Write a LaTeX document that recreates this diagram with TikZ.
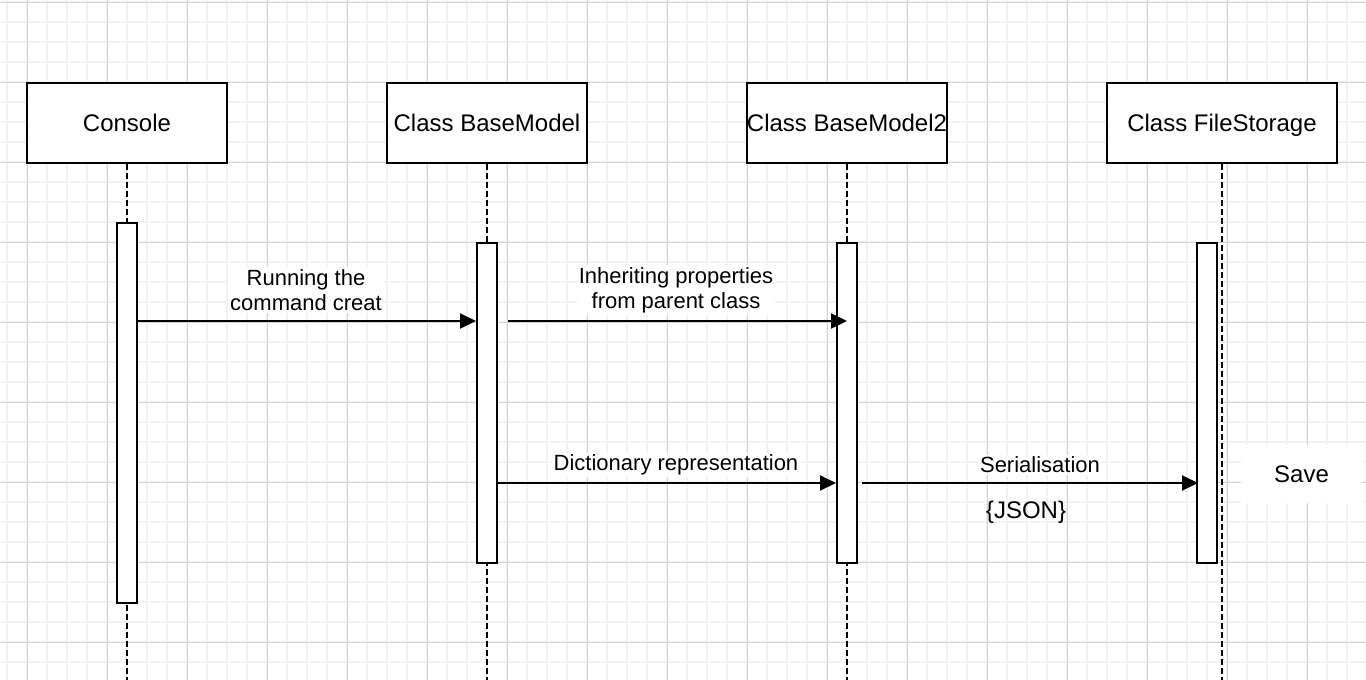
\documentclass[tikz,border=0pt]{standalone}
\usepackage{fontspec}
\setmainfont{Liberation Sans}
\usetikzlibrary{arrows.meta}
\definecolor{minorgrid}{HTML}{F2F2F2}
\definecolor{majorgrid}{HTML}{D4D4D4}
\tikzset{
  minorline/.style={draw=minorgrid, line width=1.5pt},
  majorline/.style={draw=majorgrid, line width=1pt},
  objbox/.style={draw=black, fill=white, line width=2pt, rectangle, minimum height=80pt, minimum width=200pt, inner sep=0pt, text height=17.5pt, text depth=0pt, font=\fontsize{24}{28}\selectfont},
  actbox/.style={draw=black, fill=white, line width=2pt, rectangle, minimum width=20pt, inner sep=0pt},
  lifeline/.style={draw=black, line width=2pt, dash pattern=on 6pt off 3pt},
  msg/.style={draw=black, line width=2pt, -{Triangle[length=16pt,width=15pt]}},
  msglabel/.style={fill=white, inner sep=2pt, align=center, font=\fontsize{22}{25}\selectfont},
  plaintext/.style={inner sep=0pt, font=\fontsize{24}{28}\selectfont}
}
\begin{document}
\begin{tikzpicture}[x=1pt,y=-1pt]
\useasboundingbox (0,0) rectangle (1366,680);
\fill[white] (0,0) rectangle (1366,680);
% grid
\foreach \x in {7,27,...,1366} \draw[minorline] (\x,0) -- (\x,680);
\foreach \y in {2,22,...,680} \draw[minorline] (0,\y) -- (1366,\y);
\foreach \x in {27,107,...,1366} \draw[majorline] (\x,0) -- (\x,680);
\foreach \y in {2,82,...,680} \draw[majorline] (0,\y) -- (1366,\y);

% lifeline heads
\node[objbox] (console) at (127,122.5) {Console};
\node[objbox] (bm) at (487,122.5) {Class BaseModel};
\node[objbox] (bm2) at (847,122.5) {Class BaseModel2};
\node[objbox, minimum width=230pt] (fs) at (1222,122.5) {Class FileStorage};

% lifeline ends
\coordinate (cend) at (127,681);
\coordinate (bmend) at (487,681);
\coordinate (bm2end) at (847,681);
\coordinate (fsend) at (1222,681);
\draw[lifeline] (console.south) -- (cend);
\draw[lifeline] (bm.south) -- (bmend);
\draw[lifeline] (bm2.south) -- (bm2end);
\draw[lifeline] (fs.south) -- (fsend);

% activations
\node[actbox, minimum height=380pt] (a1) at (127,413) {};
\node[actbox, minimum height=320pt] (a2) at (487,403) {};
\node[actbox, minimum height=320pt] (a3) at (847,403) {};
\node[actbox, minimum height=320pt] (a4) at (1207,403) {};

% message levels
\coordinate (y1) at (0,321);
\coordinate (y2) at (0,483);

\draw[msg] (a1.east |- y1) -- (a2.west |- y1);
\draw[msg] ([xshift=10pt]a2.east |- y1) -- (a3.center |- y1);
\draw[msg] (a2.east |- y2) -- (a3.west |- y2);
\draw[msg] ([xshift=4pt]a3.east |- y2) -- ([xshift=2pt]a4.west |- y2);

% labels
\node[msglabel] (l1) at (306,290) {Running the\\command creat};
\node[msglabel] (l2) at (676,290) {Inheriting properties\\from parent class};
\node[msglabel] (l3) at (676,465) {Dictionary representation};
\node[msglabel] (l4) at (1040,465) {Serialisation};
\node[plaintext] (json) at (1026,512) {\{JSON\}};
\node[fill=white, minimum width=121pt, minimum height=58pt, inner sep=0pt, font=\fontsize{24}{28}\selectfont] (save) at (1301.5,474) {Save};
\end{tikzpicture}
\end{document}
